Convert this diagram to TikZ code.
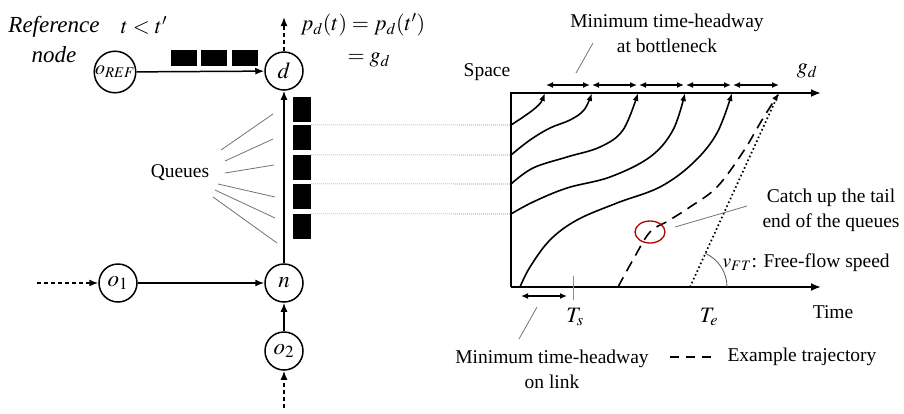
\documentclass[tikz,border=0pt]{standalone}
\usepackage{mathptmx}
\usepackage{fontspec}
\setmainfont{Liberation Serif}
\usetikzlibrary{arrows.meta,shapes.geometric}
\begin{document}
\begin{tikzpicture}[x=1pt,y=-1pt,
 every node/.style={font=\fontsize{19.5}{25}\selectfont},
 circ/.style={circle,draw,line width=1.5pt,minimum size=38pt,inner sep=0pt,font=\fontsize{23}{25}\selectfont},
 link/.style={line width=1.5pt,-{Latex[length=9pt,width=7pt]}},
 dlink/.style={link,dash pattern=on 4pt off 3pt},
 blk/.style={fill=black,draw=none,inner sep=0pt},
 guide/.style={black!55,line width=0.8pt},
 dotguide/.style={black!45,line width=0.6pt,dash pattern=on 1pt off 1pt},
 axis/.style={line width=1.9pt},
 traj/.style={line width=1.6pt,-{Latex[length=8pt,width=6pt]}},
 hw/.style={line width=1.4pt,{Latex[length=7pt,width=6pt]}-{Latex[length=7pt,width=6pt]}},
 mathlbl/.style={font=\fontsize{22}{26}\selectfont},
]
\useasboundingbox (0,0) rectangle (904,413);

% ---------- network ----------
\node[circ,font=\fontsize{20}{24}\selectfont] (oref) at (115,72) {$o_{REF}$};
\node[circ] (d) at (284,71) {$d$};
\node[circ] (o1) at (118,283) {$o_1$};
\node[circ] (n) at (284,283) {$n$};
\node[circ] (o2) at (284,351) {$o_2$};
\coordinate (dout) at (284,17);
\coordinate (o1in) at (37,283);
\coordinate (o2in) at (284,408);
\draw[link] (oref) -- (d);
\draw[link] (o1) -- (n);
\draw[link] (o2) -- (n);
\draw[link] (n) -- (d);
\draw[dlink] (d) -- (dout);
\draw[dlink] (o1in) -- (o1);
\draw[dlink] (o2in) -- (o2);

% queue blocks
\foreach \x/\nm in {184/h1,214/h2,244.5/h3}
  \node[blk,minimum width=26pt,minimum height=16pt] (\nm) at (\x,57.5) {};
\foreach \y/\nm in {109.5/v1,137.5/v2,167.5/v3,196.5/v4,226.5/v5}
  \node[blk,minimum width=18pt,minimum height=25pt] (\nm) at (302,\y) {};

% labels
\node[font=\fontsize{23}{30}\selectfont\itshape,align=center] (refl) at (54,40) {Reference\\node};
\node[mathlbl] (tt) at (144,25) {$t < t'$};
\node[mathlbl] (pd) at (363,25) {$p_d(t) = p_d(t')$};
\node[mathlbl,anchor=west] (gdl) at (344,60) {$= g_d$};

\node (queues) at (180,173) {Queues};
\foreach \i/\ax/\ay/\bx/\by in {1/221/150/273/114, 2/225/161/273/139, 3/225/173/274/165,
                                 4/218/184/275/197, 5/215/190/275/218, 6/213/197/277/243}{
  \coordinate (qa\i) at (\ax,\ay);
  \coordinate (qb\i) at (\bx,\by);
  \draw[guide] (qa\i) -- (qb\i);
}

% ---------- time-space plot ----------
\coordinate (O) at (511,287);
\coordinate (TL) at (511,93);
\coordinate (xT) at (821,93);
\coordinate (xB) at (821,287);
\draw[axis,-{Latex[length=10pt,width=8pt]}] (O) -- (TL) -- (xT);
\draw[axis,-{Latex[length=10pt,width=8pt]}] (O) -- (xB);

\coordinate (s1) at (511,125);
\coordinate (s2) at (511,155);
\coordinate (s3) at (511,184);
\coordinate (s4) at (511,214);
\draw[dotguide] (v2.north east) -- (s1);
\draw[dotguide] (v3.north east) -- (s2);
\draw[dotguide] (v4.north east) -- (s3);
\draw[dotguide] (v5.north east) -- (s4);

\node (space) at (487,72) {Space};
\node[mathlbl] (gd) at (807,71) {$g_d$};
\node (time) at (833,312) {Time};
\node[mathlbl] (Ts) at (575,317) {$T_s$};
\node[mathlbl] (Te) at (709,317) {$T_e$};

% trajectories
\draw[traj] (s1) .. controls (528,114) and (540,106) .. (545,93);
\draw[traj] plot[smooth,tension=0.6] coordinates {(511,155) (530,140) (550,128) (570,120) (584,110) (592,93)};
\draw[traj] plot[smooth,tension=0.6] coordinates {(511,184) (533,168) (567,157) (600,147) (623,130) (638,93)};
\draw[traj] plot[smooth,tension=0.6] coordinates {(511,214) (533,202) (567,188) (610,177) (650,157) (673,130) (685,93)};
\draw[traj] plot[smooth,tension=0.6] coordinates {(520,287) (530,267) (550,240) (577,220) (617,203) (660,187) (693,163) (717,133) (732,93)};
\draw[traj,dash pattern=on 11pt off 7pt] plot[smooth,tension=0.6] coordinates {(618,287) (634,258) (650,232) (668,221) (690,207) (717,187) (743,152) (762,120) (779,93)};
\coordinate (ff0) at (690,287);
\coordinate (ff1) at (778,95);
\draw[line width=1.7pt,dash pattern=on 1.6pt off 2.6pt] (ff0) -- (ff1);
\draw[black!60,line width=0.9pt] (727,287) arc[start angle=0,end angle=65.6,radius=37pt];
\node[anchor=west] (vft) at (719,263) {$v_{FT}$: Free-flow speed};

% headways
\foreach \a/\b in {546/590, 592/637, 639/684, 686/731, 733/779}
  \draw[hw] (\a,85) -- (\b,85);
\node[align=center] (mtb) at (667,33) {Minimum time-headway\\at bottleneck};
\coordinate (mtbp1) at (593,43);
\coordinate (mtbp2) at (576,73);
\draw[guide] (mtbp1) -- (mtbp2);

\draw[hw] (521,296) -- (567,296);
\draw[black!45,line width=0.6pt] (573,276) -- (573,300);
\coordinate (mlp1) at (537,307);
\coordinate (mlp2) at (519,339);
\draw[guide] (mlp1) -- (mlp2);
\node[align=center] (mtl) at (552,369) {Minimum time-headway\\on link};

% catch-up
\node[ellipse,draw=red!70!black,line width=1.3pt,minimum width=30pt,minimum height=22pt,inner sep=0pt] (catch) at (650,232) {};
\coordinate (cp1) at (675,227);
\coordinate (cp2) at (747,206);
\draw[guide] (cp1) -- (cp2);
\node[align=center] (ctext) at (831,210) {Catch up the tail\\end of the queues};

% legend
\coordinate (lg1) at (670,357);
\coordinate (lg2) at (717,357);
\draw[line width=1.5pt,dash pattern=on 9pt off 7pt] (lg1) -- (lg2);
\node[anchor=west] (lgt) at (724,357) {Example trajectory};
\end{tikzpicture}
\end{document}
